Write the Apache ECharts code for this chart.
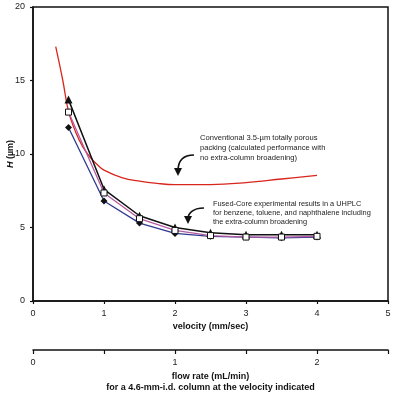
<!DOCTYPE html>
<html><head><meta charset="utf-8">
<script src="https://cdn.jsdelivr.net/npm/echarts@6/dist/echarts.min.js"></script>
<style>html,body{margin:0;padding:0;background:#fff}#c{width:400px;height:394px}</style>
</head><body><div id="c"></div>
<script>
const velocity = [0.5, 1.0, 1.5, 2.0, 2.5, 3.0, 3.5, 4.0];
const hTriangle = [13.7, 7.6, 5.8, 5.0, 4.65, 4.5, 4.5, 4.5];
const hSquare = [12.85, 7.35, 5.6, 4.8, 4.45, 4.35, 4.35, 4.4];
const hDiamond = [11.8, 6.8, 5.3, 4.6, 4.4, 4.35, 4.3, 4.35];
const redVelocity = [0.32, 0.42, 0.5, 0.6, 0.7, 0.8, 0.9, 1.0, 1.25, 1.5, 1.75, 2.0, 2.5, 3.0, 3.5, 4.0];
const redH = [17.3, 15.0, 12.9, 11.5, 10.5, 9.8, 9.3, 8.9, 8.4, 8.15, 8.0, 7.92, 7.92, 8.05, 8.3, 8.55];
const velocityTicks = [0, 1, 2, 3, 4, 5];
const flowTicks = [0, 1, 2];
const hTicks = [0, 5, 10, 15, 20];

const font = 'Liberation Sans, Arial, sans-serif';
const pair = (xs, ys) => xs.map((x, i) => [x, ys[i]]);
const axisLine = {show: true, lineStyle: {color: '#111', width: 1.5}};
const tickStyle = {show: true, length: 3, lineStyle: {color: '#111', width: 1.2}};
const labelStyle = {color: '#222', fontSize: 9, fontFamily: font};

const chart = echarts.init(document.getElementById('c'));
chart.setOption({
  animation: false,
  backgroundColor: '#fff',
  grid: [
    {left: 33, right: 12, top: 7, bottom: 93, show: true, borderColor: '#111', borderWidth: 1.5,
     containLabel: false, outerBoundsMode: 'none'},
    {left: 33, right: 12, top: 349, height: 1, containLabel: false, outerBoundsMode: 'none'}
  ],
  xAxis: [
    {type: 'value', gridIndex: 0, min: velocityTicks[0], max: velocityTicks[velocityTicks.length - 1], interval: 1,
     axisLine, axisTick: tickStyle, splitLine: {show: false},
     axisLabel: Object.assign({margin: 8}, labelStyle),
     name: 'velocity (mm/sec)', nameLocation: 'middle', nameGap: 21, nameMoveOverlap: false,
     nameTextStyle: {fontSize: 9, fontWeight: 'bold', color: '#111', fontFamily: font}},
    {type: 'value', gridIndex: 1, min: 0, max: 2.5, interval: 0.5,
     axisLine, axisTick: {show: true, length: 4, lineStyle: {color: '#111', width: 1.2}}, splitLine: {show: false},
     axisLabel: Object.assign({margin: 8, formatter: v => flowTicks.includes(v) ? String(v) : ''}, labelStyle),
     name: 'flow rate (mL/min)\nfor a 4.6-mm-i.d. column at the velocity indicated', nameLocation: 'middle', nameGap: 21,
     nameMoveOverlap: false,
     nameTextStyle: {fontSize: 9, fontWeight: 'bold', color: '#111', fontFamily: font, lineHeight: 11}}
  ],
  yAxis: [
    {type: 'value', gridIndex: 0, min: hTicks[0], max: hTicks[hTicks.length - 1], interval: 5,
     axisLine, axisTick: tickStyle, splitLine: {show: false},
     axisLabel: Object.assign({margin: 8}, labelStyle),
     name: '{i|H} (µm)', nameLocation: 'middle', nameGap: 18, nameMoveOverlap: false,
     nameTextStyle: {fontSize: 9, fontWeight: 'bold', color: '#111', fontFamily: font,
       rich: {i: {fontSize: 9, fontWeight: 'bold', fontStyle: 'italic', color: '#111', fontFamily: font}}}},
    {type: 'value', gridIndex: 1, show: false, min: 0, max: 1}
  ],
  series: [
    {type: 'line', name: 'conventional', data: pair(redVelocity, redH), smooth: 0.4, showSymbol: false,
     lineStyle: {color: '#d9261c', width: 1.3}, z: 3},
    {type: 'line', name: 'diamond', data: pair(velocity, hDiamond), symbol: 'diamond', symbolSize: 7,
     lineStyle: {color: '#2f3a8f', width: 1.3}, itemStyle: {color: '#111'}, z: 4},
    {type: 'line', name: 'square', data: pair(velocity, hSquare), symbol: 'rect', symbolSize: 6,
     lineStyle: {color: '#b65aa3', width: 1.3}, itemStyle: {color: '#fff', borderColor: '#111', borderWidth: 1}, z: 6},
    {type: 'line', name: 'triangle', data: pair(velocity, hTriangle), symbol: 'triangle', symbolSize: 8,
     lineStyle: {color: '#111', width: 1.5}, itemStyle: {color: '#111'}, z: 5}
  ],
  graphic: [
    {type: 'text', left: 200, top: 133, style: {text: 'Conventional 3.5-µm totally porous\npacking (calculated performance with\nno extra-column broadening)', fontSize: 7.6, lineHeight: 10, fill: '#222', fontFamily: font}},
    {type: 'bezierCurve', shape: {x1: 194, y1: 155, cpx1: 182, cpy1: 155, cpx2: 178, cpy2: 162, x2: 178, y2: 171}, style: {stroke: '#111', lineWidth: 1.6, fill: null}},
    {type: 'polygon', shape: {points: [[174, 168], [182, 168], [178, 176]]}, style: {fill: '#111'}},
    {type: 'text', left: 213, top: 199, style: {text: 'Fused-Core experimental results in a UHPLC\nfor benzene, toluene, and naphthalene including\nthe extra-column broadening', fontSize: 7.4, lineHeight: 9.3, fill: '#222', fontFamily: font}},
    {type: 'bezierCurve', shape: {x1: 204, y1: 208, cpx1: 192, cpy1: 208, cpx2: 188, cpy2: 214, x2: 188, y2: 219}, style: {stroke: '#111', lineWidth: 1.6, fill: null}},
    {type: 'polygon', shape: {points: [[184, 216], [192, 216], [188, 224]]}, style: {fill: '#111'}}
  ]
});
</script></body></html>
